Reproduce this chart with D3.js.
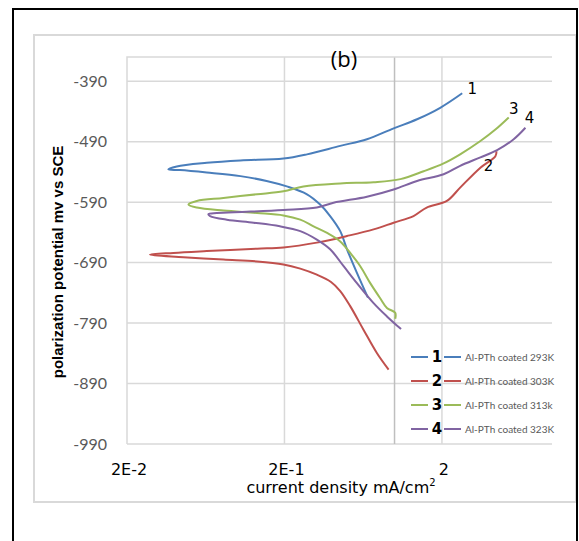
<!DOCTYPE html>
<html lang="en">
<head>
    <meta charset="UTF-8">
    <title>polarization</title>
    <script src="https://d3js.org/d3.v7.min.js"></script>
    <style>
        body { margin: 0; background: #fff; }
    </style>
</head>
<body>
    <script>
    // data: current density (mA/cm2) and potential (mV vs SCE)
    var current1 = [0.678, 0.577, 0.499, 0.452, 0.390, 0.337, 0.278, 0.207, 0.154, 0.105, 0.0642, 0.0434, 0.0366, 0.0414, 0.0642, 0.105, 0.197, 0.278, 0.452, 0.668, 0.987, 1.39, 1.95, 2.69];
    var potential1 = [-748, -707, -668, -638, -613, -594, -577, -564, -555, -547, -541, -537, -536, -531, -525, -521, -518, -511, -497, -486, -468, -453, -434, -410];

    var current2 = [0.917, 0.774, 0.635, 0.523, 0.452, 0.395, 0.321, 0.252, 0.197, 0.134, 0.0819, 0.0456, 0.0280, 0.0394, 0.0642, 0.134, 0.197, 0.321, 0.499, 0.736, 0.987, 1.32, 1.60, 2.15, 2.61, 3.51, 4.37, 4.44];
    var potential2 = [-867, -840, -801, -762, -737, -722, -710, -700, -693, -688, -685, -681, -677, -674, -671, -667, -665, -657, -646, -635, -624, -613, -599, -588, -566, -533, -514, -506];

    var current3 = [1.01, 1.01, 0.895, 0.811, 0.701, 0.606, 0.523, 0.452, 0.373, 0.306, 0.252, 0.197, 0.134, 0.0819, 0.0555, 0.0491, 0.0555, 0.0819, 0.134, 0.197, 0.264, 0.452, 0.736, 1.09, 1.53, 2.05, 2.61, 3.51, 4.37, 5.31];
    var potential3 = [-783, -773, -765, -749, -724, -696, -674, -655, -641, -630, -619, -612, -608, -604, -599, -594, -588, -583, -577, -572, -564, -559, -557, -552, -539, -526, -511, -489, -470, -450];

    var current4 = [1.10, 0.895, 0.736, 0.577, 0.475, 0.390, 0.321, 0.252, 0.187, 0.1275, 0.0861, 0.0674, 0.0657, 0.0743, 0.115, 0.197, 0.321, 0.410, 0.668, 0.987, 1.39, 2.05, 2.61, 3.51, 4.48, 5.71, 6.78];
    var potential4 = [-800, -779, -757, -724, -696, -668, -652, -638, -630, -624, -619, -613, -610, -608, -606, -603, -599, -591, -581, -569, -555, -544, -530, -516, -504, -486, -467];

    var seriesNames = ["1", "2", "3", "4"];
    var legendLabels = ["Al-PTh coated  293K", "Al-PTh coated  303K", "Al-PTh coated  313k", "Al-PTh coated  323K"];
    var yTicks = [-390, -490, -590, -690, -790, -890, -990];
    var xTicks = [0.02, 0.2, 2];
    var xTickLabels = ["2E-2", "2E-1", "2"];
    var xGrid = [0.2, 1, 2];

    var colors = ["#4a7ebb", "#c0504d", "#9bbb59", "#8064a2"];

    var width = 579;
    var height = 541;
    var plotLeft = 127, plotRight = 552, plotTop = 57, plotBottom = 444;

    var series = [
        d3.zip(current1, potential1),
        d3.zip(current2, potential2),
        d3.zip(current3, potential3),
        d3.zip(current4, potential4)
    ];

    var svg = d3.select("body").append("svg")
        .attr("width", width)
        .attr("height", height);

    // frames
    svg.append("rect")
        .attr("x", 34).attr("y", 35)
        .attr("width", 542).attr("height", 467)
        .attr("fill", "none").attr("stroke", "#d9d9d9").attr("stroke-width", 2);
    svg.append("path")
        .attr("d", "M13,541V9H577V541")
        .attr("fill", "none").attr("stroke", "#000").attr("stroke-width", 2);

    var x = d3.scaleLog().domain([0.02, 10]).range([plotLeft, plotRight]);
    var y = d3.scaleLinear().domain([-990, -350]).range([plotBottom, plotTop]);

    // grid
    svg.append("g").selectAll("line")
        .data(yTicks)
        .enter().append("line")
        .attr("x1", plotLeft).attr("x2", plotRight)
        .attr("y1", function(d) { return y(d); })
        .attr("y2", function(d) { return y(d); })
        .attr("stroke", "#d9d9d9").attr("stroke-width", 1.5);

    svg.append("g").selectAll("line")
        .data(xGrid)
        .enter().append("line")
        .attr("x1", function(d) { return x(d); })
        .attr("x2", function(d) { return x(d); })
        .attr("y1", plotTop).attr("y2", plotBottom)
        .attr("stroke", function(d) { return d == 1 ? "#bfbfbf" : "#d9d9d9"; })
        .attr("stroke-width", 1.5);

    svg.append("path")
        .attr("d", "M" + plotLeft + "," + plotBottom + "V" + plotTop + "H" + plotRight)
        .attr("fill", "none").attr("stroke", "#d9d9d9").attr("stroke-width", 1.5);

    // y labels
    svg.append("g").selectAll("text")
        .data(yTicks)
        .enter().append("text")
        .attr("x", 107)
        .attr("y", function(d) { return y(d); })
        .attr("dy", "0.35em")
        .attr("text-anchor", "end")
        .attr("font-family", "Lato")
        .attr("font-size", "16px")
        .attr("fill", "#595959")
        .text(function(d) { return d; });

    // x labels
    svg.append("g").selectAll("text")
        .data(xTicks)
        .enter().append("text")
        .attr("x", function(d) { return x(d) + 2; })
        .attr("y", 475)
        .attr("text-anchor", "middle")
        .attr("font-family", "DejaVu Sans")
        .attr("font-size", "16px")
        .attr("fill", "#000")
        .text(function(d, i) { return xTickLabels[i]; });

    var xTitle = svg.append("text")
        .attr("x", 341).attr("y", 493)
        .attr("text-anchor", "middle")
        .attr("font-family", "DejaVu Sans")
        .attr("font-size", "16px")
        .attr("fill", "#000")
        .text("current density mA/cm");
    xTitle.append("tspan")
        .attr("dy", "-7")
        .attr("font-size", "10px")
        .text("2");

    svg.append("text")
        .attr("transform", "translate(63,262) rotate(-90)")
        .attr("text-anchor", "middle")
        .attr("font-family", "Liberation Sans")
        .attr("font-weight", "bold")
        .attr("font-size", "15px")
        .attr("fill", "#000")
        .text("polarization potential mv vs SCE");

    svg.append("text")
        .attr("x", 344).attr("y", 67)
        .attr("text-anchor", "middle")
        .attr("font-family", "Open Sans")
        .attr("font-size", "22px")
        .attr("fill", "#000")
        .text("(b)");

    // curves
    var line = d3.line()
        .x(function(d) { return x(d[0]); })
        .y(function(d) { return y(d[1]); })
        .curve(d3.curveCatmullRom.alpha(0.5));

    svg.append("g").selectAll("path")
        .data(series)
        .enter().append("path")
        .attr("d", line)
        .attr("fill", "none")
        .attr("stroke", function(d, i) { return colors[i]; })
        .attr("stroke-width", 2);

    // number at the end of each curve
    var endOffset = [[10, -5], [-8, 14], [5, -9], [4, -10]];
    svg.append("g").selectAll("text")
        .data(series)
        .enter().append("text")
        .attr("x", function(d, i) { return x(d[d.length - 1][0]) + endOffset[i][0]; })
        .attr("y", function(d, i) { return y(d[d.length - 1][1]) + endOffset[i][1]; })
        .attr("dy", "0.35em")
        .attr("text-anchor", "middle")
        .attr("font-family", "DejaVu Sans")
        .attr("font-size", "15px")
        .attr("fill", "#000")
        .text(function(d, i) { return seriesNames[i]; });

    // legend
    var legend = svg.append("g").selectAll("g")
        .data(seriesNames)
        .enter().append("g")
        .attr("transform", function(d, i) { return "translate(411," + (357 + i * 24) + ")"; });

    legend.append("line")
        .attr("x1", 0).attr("x2", 17)
        .attr("stroke", function(d, i) { return colors[i]; })
        .attr("stroke-width", 2);
    legend.append("text")
        .attr("x", 26).attr("dy", "0.36em")
        .attr("text-anchor", "middle")
        .attr("font-family", "DejaVu Sans")
        .attr("font-weight", "bold")
        .attr("font-size", "15px")
        .text(function(d) { return d; });
    legend.append("line")
        .attr("x1", 33).attr("x2", 50)
        .attr("stroke", function(d, i) { return colors[i]; })
        .attr("stroke-width", 2);
    legend.append("text")
        .attr("x", 54).attr("dy", "0.35em")
        .attr("font-family", "Lato")
        .attr("font-size", "10px")
        .attr("fill", "#595959")
        .text(function(d, i) { return legendLabels[i]; });
    </script>
</body>
</html>
